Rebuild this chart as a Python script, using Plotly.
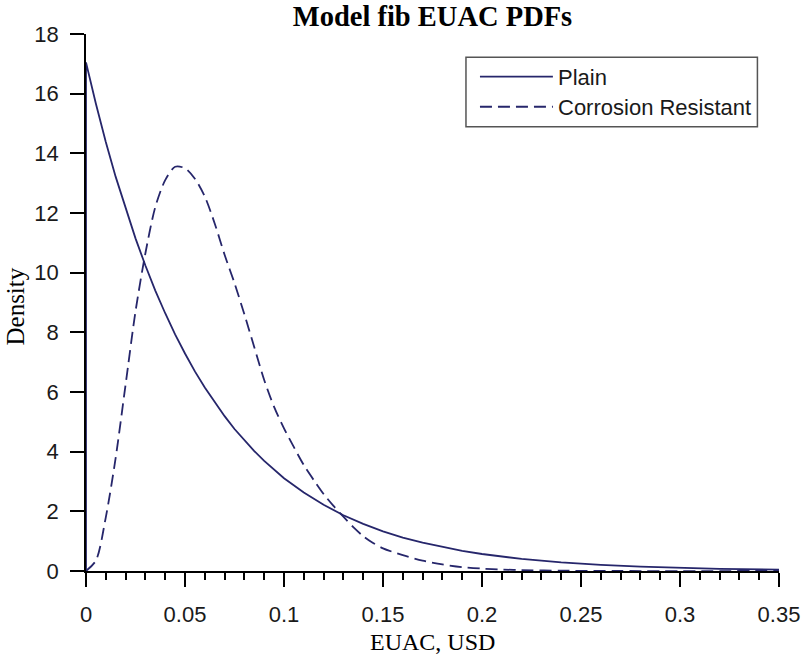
import plotly.graph_objects as go

# ---- data ----
plain_x = [0, 0, 0.005, 0.01, 0.015, 0.02, 0.025, 0.03, 0.035, 0.04, 0.045, 0.05,
           0.055, 0.06, 0.065, 0.07, 0.075, 0.08, 0.085, 0.09, 0.095, 0.10,
           0.11, 0.12, 0.13, 0.14, 0.15, 0.16, 0.17, 0.18, 0.19, 0.20,
           0.22, 0.24, 0.26, 0.28, 0.30, 0.32, 0.35]
plain_y = [0, 17.05, 15.66, 14.38, 13.21, 12.14, 11.15, 10.24, 9.40, 8.64, 7.93, 7.29,
           6.69, 6.15, 5.65, 5.19, 4.76, 4.38, 4.02, 3.69, 3.39, 3.11,
           2.63, 2.22, 1.87, 1.58, 1.33, 1.12, 0.95, 0.80, 0.675, 0.57,
           0.405, 0.29, 0.205, 0.146, 0.104, 0.074, 0.044]

cr_x = [0, 0.005, 0.01, 0.015, 0.02, 0.025, 0.03, 0.035, 0.04, 0.045, 0.05,
        0.055, 0.06, 0.065, 0.07, 0.075, 0.08, 0.085, 0.09, 0.095, 0.10,
        0.105, 0.11, 0.115, 0.12, 0.125, 0.13, 0.135, 0.14, 0.145, 0.15,
        0.16, 0.17, 0.18, 0.19, 0.20, 0.21, 0.22, 0.24, 0.27, 0.35]
cr_y = [0, 0.35, 1.8, 3.8, 6.25, 8.7, 10.65, 12.2, 13.1, 13.55, 13.5,
        13.15, 12.55, 11.65, 10.6, 9.65, 8.6, 7.5, 6.4, 5.5, 4.78,
        4.15, 3.55, 3.05, 2.58, 2.18, 1.82, 1.47, 1.17, 0.94, 0.76,
        0.53, 0.35, 0.22, 0.13, 0.08, 0.05, 0.03, 0.01, 0.0, 0.0]

series_names = ["Plain", "Corrosion Resistant"]
x_tickvals = [0, 0.05, 0.1, 0.15, 0.2, 0.25, 0.3, 0.35]
x_ticktext = ["0", "0.05", "0.1", "0.15", "0.2", "0.25", "0.3", "0.35"]
y_tickvals = [0, 2, 4, 6, 8, 10, 12, 14, 16, 18]
y_ticktext = ["0", "2", "4", "6", "8", "10", "12", "14", "16", "18"]

NAVY = "#26266b"
SANS = "Liberation Sans, Arial, sans-serif"
SERIF = "Liberation Serif, Times New Roman, serif"

fig = go.Figure()
fig.add_trace(go.Scatter(x=plain_x, y=plain_y, mode="lines", name=series_names[0],
                         line=dict(color=NAVY, width=1.8, shape="linear"),
                         showlegend=False, cliponaxis=False))
fig.add_trace(go.Scatter(x=cr_x, y=cr_y, mode="lines", name=series_names[1],
                         line=dict(color=NAVY, width=1.8, dash="12px,6px",
                                   shape="spline", smoothing=0.8),
                         showlegend=False, cliponaxis=False))

fig.update_layout(
    width=804, height=656,
    margin=dict(l=86, r=25, t=34, b=85),
    paper_bgcolor="white", plot_bgcolor="white",
    title=dict(text="<b>Model fib EUAC PDFs</b>", x=0.5, xref="paper",
               y=1 - 16 / 656, yref="container", yanchor="middle",
               font=dict(family=SERIF, size=28.5, color="black")),
    xaxis=dict(range=[0, 0.35], tickvals=x_tickvals, ticktext=x_ticktext,
               automargin=False,
               showgrid=False, zeroline=False, showline=True, linecolor="black",
               linewidth=1.5, ticks="outside", ticklen=14, tickwidth=1.5,
               tickcolor="black", ticklabelstandoff=9,
               tickfont=dict(family=SANS, size=22, color="#1a1a1a"),
               minor=dict(dtick=0.01, tick0=0, ticks="outside", ticklen=7,
                          tickwidth=1.5, tickcolor="black", showgrid=False)),
    yaxis=dict(range=[0, 18], tickvals=y_tickvals, ticktext=y_ticktext,
               automargin=False,
               showgrid=False, zeroline=False, showline=True, linecolor="black",
               linewidth=1.5, ticks="outside", ticklen=14, tickwidth=1.5,
               tickcolor="black", ticklabelstandoff=7,
               tickfont=dict(family=SANS, size=22, color="#1a1a1a")),
)

# axis titles
fig.add_annotation(text="EUAC, USD", xref="paper", yref="paper", x=0.5,
                   y=(570.7 - 642) / 536.7, yanchor="middle", showarrow=False,
                   font=dict(family=SERIF, size=24, color="black"))
fig.add_annotation(text="Density", xref="paper", yref="paper",
                   x=(15 - 85.7) / 693.6, y=(570.7 - 306) / 536.7, textangle=-90,
                   xanchor="center", yanchor="middle", showarrow=False,
                   font=dict(family=SERIF, size=25, color="black"))

# legend (drawn manually to match the long legend samples)
def px_x(p):
    return (p - 85.7) / 693.6

def px_y(p):
    return (570.7 - p) / 536.7

fig.add_shape(type="rect", xref="paper", yref="paper",
              x0=px_x(466), x1=px_x(757.7), y0=px_y(126.7), y1=px_y(57.3),
              line=dict(color="#555555", width=1.5), fillcolor="white")
legend_rows = [(76.7, "solid"), (106.7, "12px,6px")]
for (ry, dash), name in zip(legend_rows, series_names):
    fig.add_shape(type="line", xref="paper", yref="paper",
                  x0=px_x(480), x1=px_x(553), y0=px_y(ry), y1=px_y(ry),
                  line=dict(color=NAVY, width=1.8, dash=dash))
    fig.add_annotation(text=name, xref="paper", yref="paper", x=px_x(556),
                       y=px_y(ry + 1), xanchor="left", yanchor="middle",
                       showarrow=False,
                       font=dict(family=SANS, size=22, color="#1a1a1a"))

fig.write_html("out.html")
